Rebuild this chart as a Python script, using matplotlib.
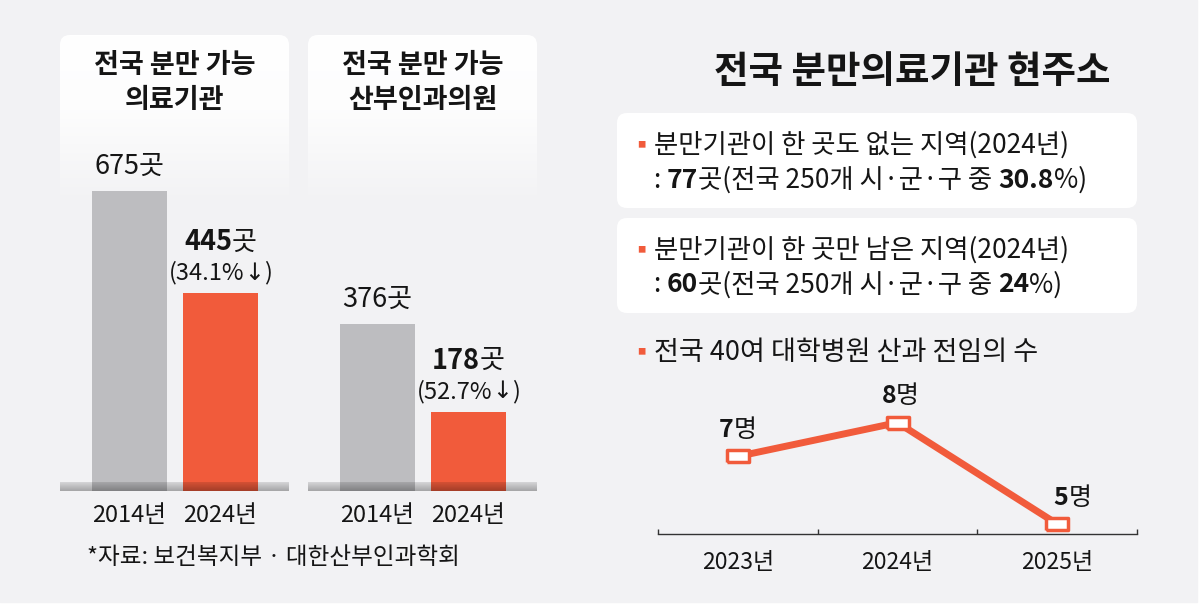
import matplotlib
matplotlib.use('Agg')
import matplotlib.pyplot as plt
import numpy as np
from matplotlib.patches import FancyBboxPatch, Rectangle

plt.rcParams['font.family'] = ['Noto Sans CJK KR', 'DejaVu Sans']

# ---- data ----
panel_titles = ['전국 분만 가능\n의료기관', '전국 분만 가능\n산부인과의원']
bar_years = ['2014년', '2024년']
clinics_all = [675, 445]
clinics_obgyn = [376, 178]
drop_pct = ['34.1', '52.7']

main_title = '전국 분만의료기관 현주소'
fact_heads = ['분만기관이 한 곳도 없는 지역(2024년)', '분만기관이 한 곳만 남은 지역(2024년)']
fact_counts = ['77', '60']
fact_shares = ['30.8', '24']
line_head = '전국 40여 대학병원 산과 전임의 수'
fellow_years = ['2023년', '2024년', '2025년']
fellows = [7, 8, 5]
source = '*자료: 보건복지부 · 대한산부인과학회'

# ---- style ----
W, H = 1200, 609
BG = '#f2f2f4'
GRAY = '#bdbdc0'
ORANGE = '#f15b3b'
INK = '#151515'

fig = plt.figure(figsize=(W / 100, H / 100), dpi=100)
fig.patch.set_facecolor('white')
renderer = fig.canvas.get_renderer()


def pix_axes(x0, y0, x1, y1, **kw):
    # axes placed by top-left pixel box
    return fig.add_axes([x0 / W, 1 - y1 / H, (x1 - x0) / W, (y1 - y0) / H], **kw)


def rich(ax, xy, parts, size, offset=(0, 0), ha='center', xycoords='data'):
    arts = []
    for part in parts:
        s, w = part[0], part[1]
        kw = {}
        if len(part) > 2:
            kw['family'] = part[2]
        t = ax.annotate(s, xy, xycoords=xycoords, xytext=offset, textcoords='offset points',
                        ha='left', va='center', fontsize=size, fontweight=w, color=INK,
                        annotation_clip=False, **kw)
        arts.append(t)
    widths = [t.get_window_extent(renderer).width * 72 / fig.dpi for t in arts]
    x = offset[0] - (sum(widths) / 2 if ha == 'center' else 0)
    for t, w in zip(arts, widths):
        t.set_position((x, offset[1]))
        x += w


# background layer in pixel coordinates
bg = fig.add_axes([0, 0, 1, 1], zorder=0)
bg.set_xlim(0, W)
bg.set_ylim(H, 0)
bg.axis('off')
bg.add_patch(Rectangle((0, 0), 1197, 602, color=BG, zorder=0))

fg = fig.add_axes([0, 0, 1, 1], zorder=5)
fg.set_xlim(0, W)
fg.set_ylim(H, 0)
fg.axis('off')

# ---- left: two bar panels ----
panel_left = [60, 308]
pw = 229
ramp_y = np.linspace(35, 205, 120)
alpha = np.interp(ramp_y, [35, 110, 205], [1.0, 0.85, 0.0])
grad = np.ones((len(ramp_y), 1, 4))
grad[:, 0, 3] = alpha
band = np.zeros((20, 1, 4))
band[:, 0, 3] = np.linspace(0.12, 0.32, 20)

for left, title, vals, pct in zip(panel_left, panel_titles, [clinics_all, clinics_obgyn], drop_pct):
    clip = FancyBboxPatch((left, 35), pw, 300, boxstyle='round,pad=0,rounding_size=10',
                          fc='none', ec='none')
    bg.add_patch(clip)
    im = bg.imshow(grad, extent=(left, left + pw, 205, 35), aspect='auto', zorder=1)
    im.set_clip_path(clip)
    for k, line in enumerate(title.split('\n')):
        bg.text(left + pw / 2, 65 + 35 * k, line, ha='center', va='center',
                fontsize=19.5, fontweight='bold', color=INK)

    ax = pix_axes(left, 35, left + pw, 491, zorder=2)
    ax.set_facecolor('none')
    ax.set_xlim(-0.764, 1.753)
    ax.set_ylim(0, 1027)
    ax.bar([0, 1], vals, width=0.824, color=[GRAY, ORANGE])
    for s in ax.spines.values():
        s.set_visible(False)
    ax.set_yticks([])
    ax.set_xticks([0, 1], bar_years)
    ax.tick_params(axis='x', length=0, pad=9, labelsize=17, labelcolor=INK)

    ax.annotate(f'{vals[0]}곳', (0, vals[0]), xytext=(0, 18), textcoords='offset points',
                ha='center', va='center', fontsize=19.5, color=INK)
    rich(ax, (1, vals[1]), [(str(vals[1]), 'heavy'), ('곳', 'normal')], 19.5, offset=(0, 37))
    rich(ax, (1, vals[1]), [(f'({pct}%', 'normal'), ('↓', 'normal', 'DejaVu Sans'), (')', 'normal')],
         17, offset=(0, 15))

    fg.imshow(band, extent=(left, left + pw, 491, 482), aspect='auto')

bg.text(87, 558, source, ha='left', va='center', fontsize=17, color=INK)

# ---- right: facts ----
bg.text(912, 72, main_title, ha='center', va='center', fontsize=27, fontweight='bold', color=INK)

for k, (head, cnt, share) in enumerate(zip(fact_heads, fact_counts, fact_shares)):
    top = 113 + 105 * k
    bg.add_patch(FancyBboxPatch((617, top), 520, 95, boxstyle='round,pad=0,rounding_size=10',
                                fc='white', ec='none', zorder=1))
    y1, y2 = top + 32, top + 67
    bg.text(641, y1, '■', ha='center', va='center', fontsize=6, color=ORANGE)
    bg.text(654, y1, head, ha='left', va='center', fontsize=19, color=INK)
    rich(bg, (654, y2), [(': ', 'normal'), (cnt, 'heavy'), ('곳(전국 250개 시·군·구 중 ', 'normal'),
                         (share, 'heavy'), ('%)', 'normal')], 19, ha='left')

bg.text(641, 352, '■', ha='center', va='center', fontsize=6, color=ORANGE)
bg.text(654, 352, line_head, ha='left', va='center', fontsize=19.5, color=INK)

# ---- right: line chart ----
lx = pix_axes(658, 380, 1137, 534, zorder=3)
lx.set_facecolor('none')
lx.set_xlim(-0.5, 2.5)
lx.set_ylim(4.704, 9.26)
for side in ['top', 'left', 'right']:
    lx.spines[side].set_visible(False)
lx.spines['bottom'].set_color('#333333')
lx.spines['bottom'].set_linewidth(1)
lx.set_yticks([])
lx.set_xticks(range(len(fellow_years)), fellow_years)
lx.set_xticks(np.arange(-0.5, len(fellow_years), 1), minor=True)
lx.tick_params(axis='x', which='major', length=0, pad=12, labelsize=16.5, labelcolor=INK)
lx.tick_params(axis='x', which='minor', direction='in', length=3.6, width=1, color='#333333')

rect_marker = [(-1, -0.5), (1, -0.5), (1, 0.5), (-1, 0.5), (-1, -0.5)]
lx.plot(range(len(fellows)), fellows, color=ORANGE, lw=5, marker=rect_marker, ms=16,
        mfc='white', mec=ORANGE, mew=2.5, clip_on=False, zorder=3)
label_dx = [0, 2, 11]
for i, v in enumerate(fellows):
    rich(lx, (i, v), [(str(v), 'heavy'), ('명', 'normal')], 18, offset=(label_dx[i], 19))

fig.savefig('out.png', dpi=100, facecolor=fig.get_facecolor())
